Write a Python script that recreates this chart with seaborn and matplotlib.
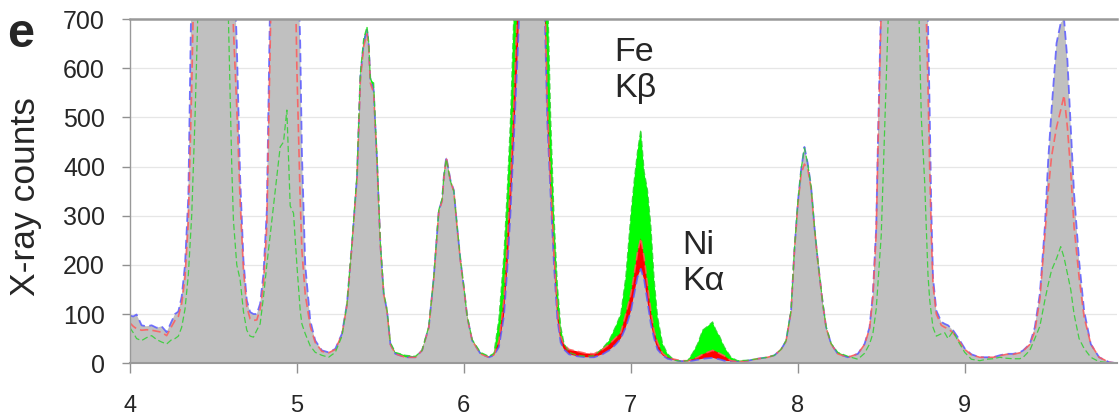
import numpy as np
import pandas as pd
import seaborn as sns
import matplotlib
matplotlib.use("Agg")
import matplotlib.pyplot as plt

# energy (keV) and x-ray counts of the three spectra
energy = [4.00, 4.02, 4.04, 4.07, 4.10, 4.13, 4.16, 4.19, 4.22, 4.25, 4.27, 4.29,
          4.31, 4.33, 4.35, 4.37, 4.39, 4.41, 4.45, 4.51, 4.56, 4.59, 4.61, 4.62,
          4.64, 4.66, 4.68, 4.70, 4.72, 4.74, 4.76, 4.78, 4.80, 4.82, 4.84, 4.86,
          4.88, 4.90, 4.92, 4.94, 4.96, 4.98, 5.00, 5.02, 5.03, 5.05, 5.08, 5.11,
          5.15, 5.19, 5.23, 5.27, 5.30, 5.33, 5.36, 5.38, 5.40, 5.42, 5.43, 5.44,
          5.46, 5.47, 5.48, 5.50, 5.52, 5.54, 5.56, 5.59, 5.65, 5.71, 5.75, 5.79,
          5.82, 5.85, 5.87, 5.88, 5.895, 5.92, 5.94, 5.96, 5.98, 6.00, 6.02, 6.05,
          6.10, 6.15, 6.18, 6.21, 6.24, 6.26, 6.28, 6.30, 6.32, 6.34, 6.40, 6.46,
          6.48, 6.50, 6.52, 6.54, 6.56, 6.58, 6.60, 6.63, 6.68, 6.73, 6.78, 6.83,
          6.87, 6.91, 6.94, 6.97, 7.00, 7.02, 7.04, 7.06, 7.08, 7.10, 7.12, 7.14,
          7.16, 7.19, 7.22, 7.26, 7.30, 7.34, 7.37, 7.40, 7.43, 7.46, 7.49, 7.51,
          7.53, 7.56, 7.60, 7.64, 7.70, 7.76, 7.82, 7.86, 7.90, 7.93, 7.96, 7.98,
          8.00, 8.02, 8.04, 8.06, 8.08, 8.10, 8.12, 8.15, 8.17, 8.20, 8.24, 8.30,
          8.36, 8.40, 8.43, 8.45, 8.47, 8.48, 8.50, 8.52, 8.54, 8.56, 8.60, 8.64,
          8.68, 8.72, 8.74, 8.76, 8.78, 8.79, 8.80, 8.81, 8.83, 8.86, 8.88, 8.90,
          8.93, 8.96, 9.00, 9.04, 9.09, 9.13, 9.17, 9.21, 9.25, 9.29, 9.33, 9.35,
          9.39, 9.42, 9.45, 9.48, 9.50, 9.52, 9.55, 9.575, 9.595, 9.615, 9.635, 9.655,
          9.685, 9.715, 9.755, 9.805, 9.865, 9.91]

# blue spectrum (grey fill)
counts_blue = [97, 95, 99, 77, 75, 77, 72, 75, 63, 85, 100, 105,
               135, 200, 340, 800, 1200, 1800, 2500, 3000, 2500, 1500, 1000, 850,
               650, 380, 209, 128, 104, 100, 100, 121, 182, 311, 750, 1100,
               1400, 1500, 1500, 1400, 1300, 1200, 900, 650, 430, 200, 87, 46,
               26, 22, 29, 60, 121, 243, 379, 583, 651, 678, 651, 577,
               556, 481, 413, 243, 141, 107, 39, 19, 12, 12, 26, 73,
               175, 311, 332, 379, 420, 372, 352, 277, 209, 155, 95, 46,
               19, 12, 16, 33, 95, 190, 310, 460, 610, 780, 3000, 1500,
               780, 490, 340, 200, 90, 42, 28, 18, 14, 12, 12, 18,
               26, 38, 50, 73, 105, 140, 175, 192, 170, 125, 80, 50,
               28, 16, 9, 6, 4, 4, 5, 7, 9, 10, 11, 9,
               8, 5, 4, 3, 5, 9, 12, 16, 28, 45, 107, 230,
               325, 393, 440, 406, 359, 277, 209, 121, 73, 39, 19, 12,
               19, 39, 73, 141, 277, 447, 750, 1100, 1500, 2000, 2800, 3000,
               2800, 2000, 1500, 1000, 700, 515, 311, 175, 107, 84, 80, 77,
               67, 52, 30, 18, 12, 12, 12, 16, 19, 19, 22, 26,
               39, 73, 141, 277, 413, 515, 651, 692, 700, 617, 481, 345,
               209, 107, 39, 12, 2, 0]

# red spectrum
counts_red = [82, 75, 70, 67, 68, 67, 65, 63, 56, 75, 87, 95,
              121, 175, 290, 560, 900, 1500, 2300, 2800, 2300, 1300, 850, 680,
              520, 330, 190, 115, 90, 87, 88, 110, 160, 280, 650, 1000,
              1300, 1400, 1400, 1300, 1150, 1000, 600, 330, 230, 140, 75, 42,
              24, 21, 28, 58, 118, 240, 375, 575, 645, 670, 645, 570,
              550, 478, 410, 240, 140, 105, 38, 19, 12, 12, 26, 72,
              173, 308, 330, 375, 418, 370, 350, 275, 207, 153, 94, 46,
              19, 12, 17, 45, 130, 250, 379, 540, 720, 900, 3200, 1600,
              850, 530, 370, 225, 110, 55, 38, 28, 24, 20, 19, 28,
              38, 52, 62, 100, 140, 180, 225, 254, 215, 160, 107, 65,
              42, 20, 12, 8, 5, 5, 8, 12, 18, 22, 26, 24,
              20, 15, 5, 3, 5, 9, 12, 16, 28, 45, 105, 228,
              320, 385, 405, 395, 355, 275, 207, 120, 72, 39, 19, 12,
              19, 38, 70, 135, 265, 430, 720, 1050, 1450, 1900, 2700, 2900,
              2700, 1900, 1400, 850, 560, 400, 260, 160, 100, 77, 73, 70,
              62, 48, 28, 17, 12, 12, 12, 15, 18, 18, 21, 25,
              38, 65, 130, 260, 350, 420, 480, 515, 545, 480, 390, 277,
              175, 94, 39, 12, 2, 0]

# green spectrum
counts_green = [72, 62, 50, 46, 52, 56, 48, 43, 39, 48, 50, 55,
                73, 110, 180, 300, 500, 750, 1400, 1800, 1000, 700, 400, 290,
                200, 170, 105, 67, 55, 53, 67, 80, 135, 200, 260, 320,
                380, 440, 450, 515, 320, 305, 200, 107, 80, 60, 35, 22,
                16, 12, 22, 55, 120, 245, 385, 590, 660, 685, 655, 580,
                570, 490, 420, 245, 145, 108, 42, 22, 16, 14, 26, 75,
                176, 312, 335, 380, 415, 370, 350, 278, 210, 156, 96, 48,
                22, 14, 20, 90, 220, 350, 500, 720, 900, 1100, 3500, 2000,
                1100, 780, 500, 300, 160, 75, 40, 22, 16, 14, 15, 30,
                46, 75, 100, 175, 300, 370, 430, 475, 390, 352, 280, 170,
                95, 40, 19, 6, 4, 5, 20, 39, 67, 75, 84, 67,
                56, 33, 12, 5, 6, 9, 12, 16, 28, 46, 108, 232,
                326, 395, 438, 405, 360, 278, 210, 122, 74, 40, 22, 14,
                8, 20, 39, 60, 110, 160, 260, 470, 680, 900, 1800, 2200,
                1800, 800, 500, 370, 180, 130, 100, 73, 55, 60, 62, 50,
                65, 45, 22, 8, 5, 8, 9, 12, 10, 9, 9, 12,
                26, 50, 75, 128, 160, 189, 213, 237, 215, 182, 150, 100,
                50, 30, 12, 3, 1, 0]

df = pd.DataFrame({"energy": energy, "blue": counts_blue,
                   "red": counts_red, "green": counts_green})

sns.set_style("white")
plt.rcParams["font.family"] = ["Liberation Sans", "DejaVu Sans"]

fig = plt.figure(figsize=(11.2, 4.16), dpi=100)
ax = fig.add_axes([0.116, 0.127, 0.881, 0.827])

for v in range(100, 700, 100):
    ax.axhline(v, color="#e6e6e6", lw=0.9, zorder=0)

# filled spectra: green under red under grey
ax.fill_between(df.energy, df.green, color="#00ff00", lw=0, zorder=1)
ax.fill_between(df.energy, df.red, color="#ff0000", lw=0, zorder=2)
ax.fill_between(df.energy, df.blue, color="#c0c0c0", lw=0, zorder=3)

# dashed outlines on top
sns.lineplot(data=df, x="energy", y="blue", ax=ax, color="#5a5aff",
             lw=1.3, zorder=4)
sns.lineplot(data=df, x="energy", y="red", ax=ax, color="#ff5a5a",
             lw=1.2, zorder=5)
sns.lineplot(data=df, x="energy", y="green", ax=ax, color="#30d030",
             lw=0.9, zorder=6)
for ln in ax.lines[6:]:
    ln.set_linestyle((0, (5, 2.5)))
    ln.set_alpha(0.85)

ax.set_xlim(4, 9.91)
ax.set_ylim(0, 700)
ax.set_xticks([4, 5, 6, 7, 8, 9])
ax.set_yticks(range(0, 701, 100))
ax.set_xlabel("")
ax.set_ylabel("X-ray counts", fontsize=25.5)
ax.yaxis.set_label_coords(-0.089, 0.483)

ax.tick_params(axis="y", left=True, length=6, width=1, color="#909090",
               pad=12, labelsize=18)
ax.tick_params(axis="x", bottom=True, length=7, width=1, color="#909090",
               pad=16, labelsize=17)

for side in ["left", "bottom", "top"]:
    ax.spines[side].set_color("#999999")
ax.spines["top"].set_linewidth(1.8)
ax.spines["bottom"].set_linewidth(1.5)
ax.spines["left"].set_linewidth(1.0)
ax.spines["right"].set_visible(False)
for s in ax.spines.values():
    s.set_zorder(7)

ax.text(6.90, 664, "Fe\nKβ", fontsize=24.5, ha="left", va="top", zorder=8)
ax.text(7.31, 270, "Ni\nKα", fontsize=24.5, ha="left", va="top", zorder=8)

fig.text(0.006, 0.887, "e", fontsize=35, fontweight="bold", va="baseline")

fig.savefig("out.png", dpi=100)
